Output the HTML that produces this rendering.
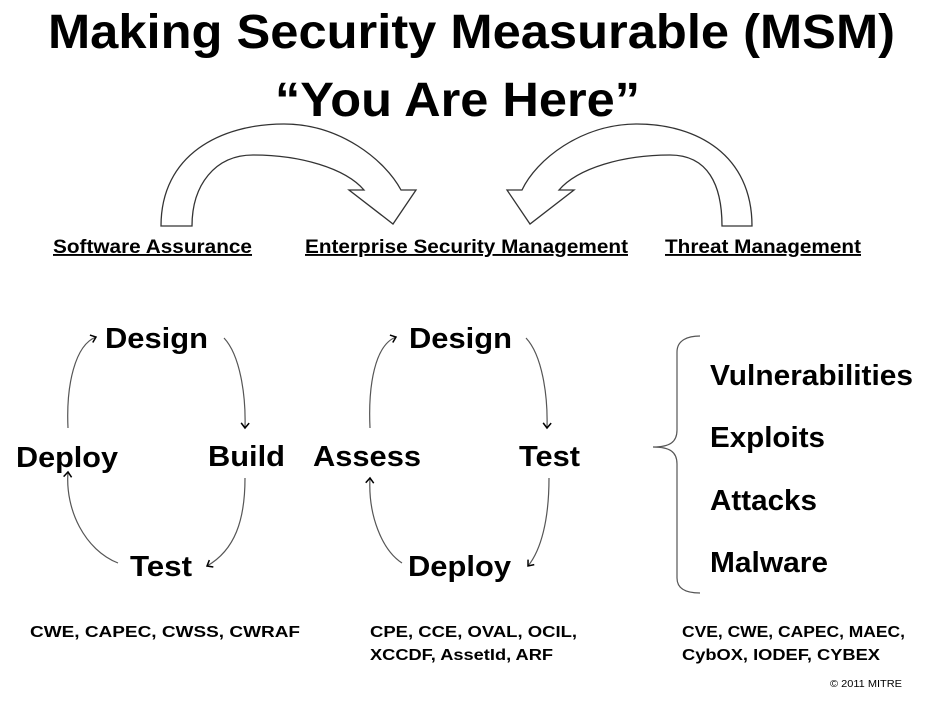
<!DOCTYPE html>
<html><head><meta charset="utf-8"><style>
html,body{margin:0;padding:0;background:#fff;}
svg{display:block;font-family:"Liberation Sans",sans-serif;}
.t{font-weight:bold;font-size:48px;}
.w{font-weight:bold;font-size:29px;}
.l{font-weight:bold;font-size:19px;text-decoration:underline;}
.s{font-weight:bold;font-size:16px;}
</style></head><body>
<svg width="943" height="703" viewBox="0 0 943 703" xmlns="http://www.w3.org/2000/svg">
<defs>
<marker id="a" markerWidth="10" markerHeight="10" refX="6" refY="5" orient="auto" markerUnits="userSpaceOnUse">
<path d="M1,1 L6,5 L1,9" fill="none" stroke="#000" stroke-width="1.5"/></marker>
</defs>
<text class="t" x="48" y="48" textLength="847" lengthAdjust="spacingAndGlyphs">Making Security Measurable (MSM)</text>
<text class="t" x="275" y="116" textLength="365" lengthAdjust="spacingAndGlyphs">“You Are Here”</text>

<path d="M161,226 C161,155 220,124 284,124 C340,124 385,160 401,190 L416,190 L393,224 L349,190 L364,190 C345,168 300,155 253,155 C215,155 192,185 192,226 Z" fill="#fff" stroke="#333" stroke-width="1.3"/>
<path d="M752,226 C752,155 697,124 637,124 C581,124 536,160 522,190 L507,190 L530,224 L574,190 L559,190 C578,168 623,155 670,155 C708,155 722,185 722,226 Z" fill="#fff" stroke="#333" stroke-width="1.3"/>

<text class="l" x="53" y="253" textLength="199" lengthAdjust="spacingAndGlyphs">Software Assurance</text>
<text class="l" x="305" y="253" textLength="323" lengthAdjust="spacingAndGlyphs">Enterprise Security Management</text>
<text class="l" x="665" y="253" textLength="196" lengthAdjust="spacingAndGlyphs">Threat Management</text>

<g fill="none" stroke="#555" stroke-width="1.2" marker-end="url(#a)">
<path d="M224,338 C240,355 246,395 245,428"/>
<path d="M245,478 C245,520 235,550 207,566"/>
<path d="M118,563 C85,550 65,510 68,472"/>
<path d="M68,428 C66,385 75,345 96,337"/>
<path d="M526,338 C542,355 548,395 547,428"/>
<path d="M549,478 C549,520 541,550 528,566"/>
<path d="M402,563 C382,550 368,515 370,478"/>
<path d="M370,428 C368,385 375,345 396,337"/>
</g>
<text class="w" x="105" y="348" textLength="103" lengthAdjust="spacingAndGlyphs">Design</text>
<text class="w" x="208" y="466" textLength="77" lengthAdjust="spacingAndGlyphs">Build</text>
<text class="w" x="16" y="467" textLength="102" lengthAdjust="spacingAndGlyphs">Deploy</text>
<text class="w" x="130" y="576" textLength="62" lengthAdjust="spacingAndGlyphs">Test</text>
<text class="w" x="409" y="348" textLength="103" lengthAdjust="spacingAndGlyphs">Design</text>
<text class="w" x="519" y="466" textLength="61" lengthAdjust="spacingAndGlyphs">Test</text>
<text class="w" x="313" y="466" textLength="108" lengthAdjust="spacingAndGlyphs">Assess</text>
<text class="w" x="408" y="576" textLength="103" lengthAdjust="spacingAndGlyphs">Deploy</text>

<path d="M700,336 C688,336 677,340 677,352 L677,430 C677,442 670,447 653,447 C670,447 677,452 677,464 L677,578 C677,590 688,593 700,593" fill="none" stroke="#555" stroke-width="1.2"/>
<text class="w" x="710" y="385" textLength="203" lengthAdjust="spacingAndGlyphs">Vulnerabilities</text>
<text class="w" x="710" y="447" textLength="115" lengthAdjust="spacingAndGlyphs">Exploits</text>
<text class="w" x="710" y="510" textLength="107" lengthAdjust="spacingAndGlyphs">Attacks</text>
<text class="w" x="710" y="572" textLength="118" lengthAdjust="spacingAndGlyphs">Malware</text>

<text class="s" x="30" y="637" textLength="270" lengthAdjust="spacingAndGlyphs">CWE, CAPEC, CWSS, CWRAF</text>
<text class="s" x="370" y="637" textLength="207" lengthAdjust="spacingAndGlyphs">CPE, CCE, OVAL, OCIL,</text>
<text class="s" x="370" y="660" textLength="183" lengthAdjust="spacingAndGlyphs">XCCDF, AssetId, ARF</text>
<text class="s" x="682" y="637" textLength="223" lengthAdjust="spacingAndGlyphs">CVE, CWE, CAPEC, MAEC,</text>
<text class="s" x="682" y="660" textLength="198" lengthAdjust="spacingAndGlyphs">CybOX, IODEF, CYBEX</text>
<text x="830" y="687" font-size="10" textLength="72" lengthAdjust="spacingAndGlyphs">© 2011 MITRE</text>
</svg>
</body></html>
